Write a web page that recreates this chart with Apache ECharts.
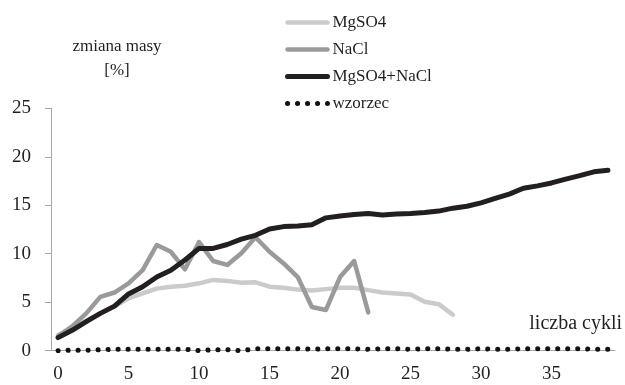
<!DOCTYPE html>
<html>
<head>
<meta charset="utf-8">
<script src="https://cdn.jsdelivr.net/npm/echarts@6/dist/echarts.min.js"></script>
<style>
  html, body { margin: 0; padding: 0; background: #fff; }
  #chart { width: 625px; height: 385px; }
</style>
</head>
<body>
<div id="chart"></div>
<script>
// Mass change [%] versus number of cycles, for each salt solution
const cycles = Array.from({ length: 40 }, (_, i) => String(i));

const mgso4 = [1.6, 2.2, 3.1, 3.85, 4.55, 5.4, 5.9, 6.4, 6.6, 6.7,
  6.95, 7.3, 7.2, 7.0, 7.05, 6.6, 6.5, 6.3, 6.2, 6.35,
  6.5, 6.5, 6.25, 6.0, 5.9, 5.8, 5.05, 4.8, 3.7];

const nacl = [1.5, 2.5, 3.85, 5.55, 6.0, 6.95, 8.3, 10.9, 10.2, 8.4,
  11.2, 9.25, 8.85, 10.05, 11.7, 10.2, 9.0, 7.6, 4.5, 4.2,
  7.6, 9.25, 3.95];

const mgso4Nacl = [1.35, 2.1, 3.0, 3.85, 4.6, 5.85, 6.6, 7.6, 8.3, 9.35,
  10.55, 10.55, 10.95, 11.5, 11.9, 12.55, 12.8, 12.85, 13.0, 13.7,
  13.9, 14.05, 14.15, 14.0, 14.1, 14.15, 14.25, 14.4, 14.7, 14.9,
  15.25, 15.7, 16.15, 16.75, 17.0, 17.3, 17.7, 18.05, 18.45, 18.6];

const wzorzec = [0.0, 0.05, 0.05, 0.1, 0.15, 0.15, 0.15, 0.15, 0.15, 0.15,
  0.0, 0.1, 0.1, 0.0, 0.2, 0.2, 0.2, 0.2, 0.15, 0.2,
  0.2, 0.2, 0.15, 0.2, 0.2, 0.15, 0.2, 0.2, 0.15, 0.15,
  0.2, 0.15, 0.15, 0.2, 0.2, 0.2, 0.2, 0.2, 0.15, 0.15];

const yTicks = { min: 0, max: 25, interval: 5 };

const serif = '"Liberation Serif", "DejaVu Serif", serif';
const ink = '#231f20';
const axisGrey = '#a6a6a6';

const chart = echarts.init(document.getElementById('chart'), null, { renderer: 'canvas' });

chart.setOption({
  animation: false,
  backgroundColor: '#ffffff',
  textStyle: { fontFamily: serif, color: ink },
  grid: { left: 51, right: 10, top: 108.3, bottom: 34.3, containLabel: false },
  title: {
    text: 'zmiana masy\n[%]',
    left: 112,
    top: 30,
    textAlign: 'center',
    textStyle: { fontFamily: serif, fontSize: 17, fontWeight: 'normal', color: ink, lineHeight: 24 }
  },
  legend: {
    orient: 'vertical',
    left: 285,
    top: 14,
    padding: 0,
    itemWidth: 40,
    itemHeight: 14,
    itemGap: 10,
    // line-only keys: hide the point symbol drawn over each legend line
    itemStyle: { opacity: 0 },
    lineStyle: { width: 'inherit' },
    textStyle: { fontFamily: serif, fontSize: 17, color: ink },
    data: ['MgSO4', 'NaCl', 'MgSO4+NaCl', 'wzorzec']
  },
  graphic: [{
    type: 'text',
    right: 3,
    top: 314,
    style: { text: 'liczba cykli', font: '20px ' + serif, fill: ink }
  }],
  xAxis: {
    type: 'category',
    data: cycles,
    boundaryGap: true,
    axisLine: { lineStyle: { color: axisGrey, width: 1 } },
    axisTick: { interval: 4, length: 6, lineStyle: { color: axisGrey } },
    axisLabel: { interval: 4, fontFamily: serif, fontSize: 19, color: ink, margin: 14 },
    splitLine: { show: false }
  },
  yAxis: {
    type: 'value',
    min: yTicks.min,
    max: yTicks.max,
    interval: yTicks.interval,
    axisLine: { show: true, lineStyle: { color: axisGrey, width: 1 } },
    axisTick: { show: true, length: 6, lineStyle: { color: axisGrey } },
    axisLabel: { fontFamily: serif, fontSize: 19, color: ink, margin: 20 },
    splitLine: { show: false }
  },
  series: [
    {
      name: 'MgSO4', type: 'line', data: mgso4, showSymbol: false, symbol: 'none',
      lineStyle: { color: '#cbcbcb', width: 4.5, cap: 'round', join: 'round' },
      itemStyle: { color: '#cbcbcb' }
    },
    {
      name: 'NaCl', type: 'line', data: nacl, showSymbol: false, symbol: 'none',
      lineStyle: { color: '#999a9c', width: 4.5, cap: 'round', join: 'round' },
      itemStyle: { color: '#999a9c' }
    },
    {
      name: 'MgSO4+NaCl', type: 'line', data: mgso4Nacl, showSymbol: false, symbol: 'none',
      lineStyle: { color: ink, width: 5, cap: 'round', join: 'round' },
      itemStyle: { color: ink }
    },
    {
      name: 'wzorzec', type: 'line', data: wzorzec, showSymbol: false, symbol: 'none',
      lineStyle: { color: '#111111', width: 5, type: [0.1, 9.9], cap: 'round', join: 'round' },
      itemStyle: { color: '#111111' }
    }
  ]
});
</script>
</body>
</html>
